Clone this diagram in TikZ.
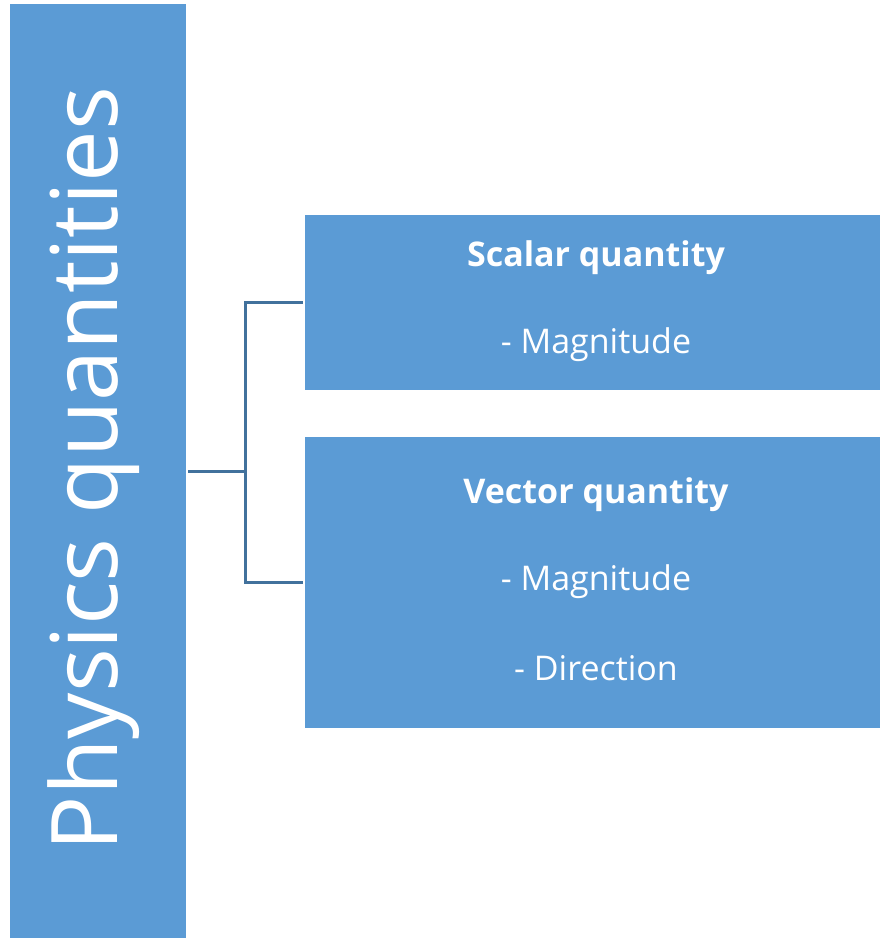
\documentclass[tikz,border=0pt]{standalone}
\usepackage{fontspec}
\setmainfont{Open Sans}
\usetikzlibrary{calc}
\definecolor{boxblue}{HTML}{5B9BD5}
\definecolor{linkblue}{HTML}{41719C}
\tikzset{
  panel/.style={fill=boxblue, draw=none, inner sep=0pt, text=white},
  link/.style={draw=linkblue, line width=2.6pt},
  headline/.style={font=\fontsize{34}{40}\selectfont\bfseries},
  itemline/.style={font=\fontsize{34}{40}\selectfont},
}
\begin{document}
\begin{tikzpicture}[x=1pt,y=-1pt]
  \useasboundingbox (0,0) rectangle (880,938);
  % tall left panel with the rotated title
  \node[panel, minimum width=176pt, minimum height=934pt, anchor=north west] (phys) at (10,4) {};
  \node[text=white, rotate=90, font=\fontsize{92}{100}\selectfont] (title) at (94,469) {Physics quantities};
  % right panels
  \node[panel, minimum width=575pt, minimum height=175pt, anchor=north west] (scalar) at (305,215) {};
  \node[panel, minimum width=575pt, minimum height=291pt, anchor=north west] (vector) at (305,437) {};
  \node[text=white, headline] (st) at (596,258) {Scalar quantity};
  \node[text=white, itemline] (sm) at (596,345) {- Magnitude};
  \node[text=white, headline] (vt) at (596,495) {Vector quantity};
  \node[text=white, itemline] (vm) at (596,582) {- Magnitude};
  \node[text=white, itemline] (vd) at (596,668) {- Direction};
  % bracket connector
  \coordinate (j) at ($(phys.east)+(59,0)$);
  \draw[link] ($(phys.east)+(2,0)$) -- (j);
  \draw[link] (j) |- ($(scalar.west)+(-2,0)$);
  \draw[link] (j) |- ($(vector.west)+(-2,0)$);
\end{tikzpicture}
\end{document}
